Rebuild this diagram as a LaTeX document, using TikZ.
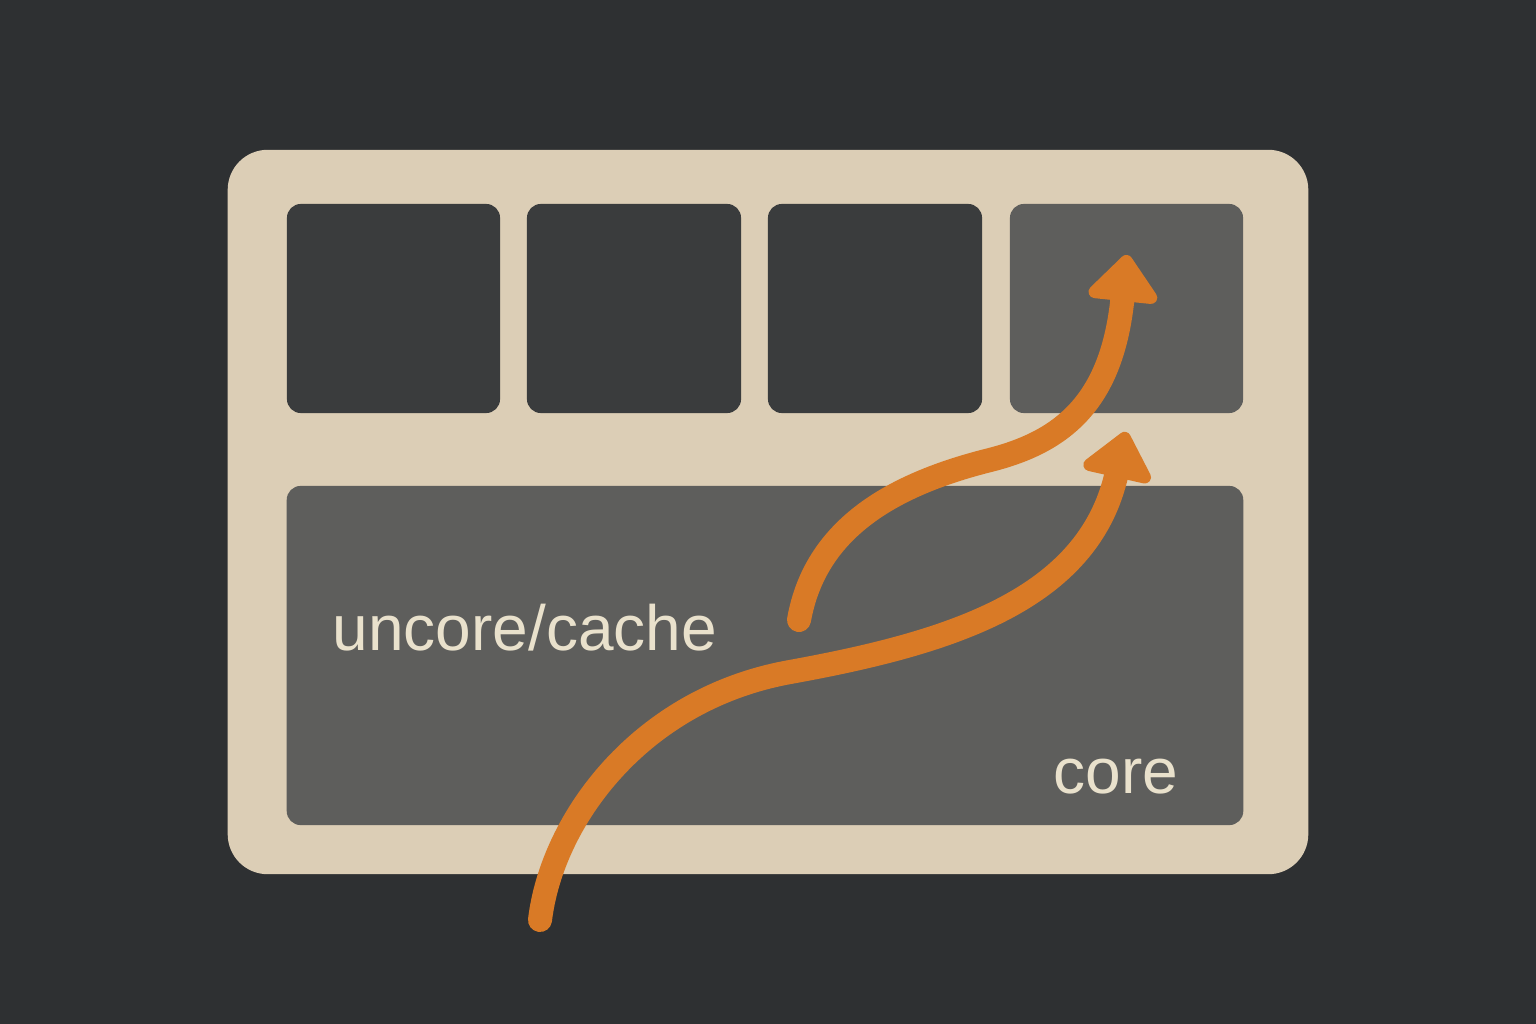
\documentclass[tikz,border=0pt]{standalone}
\usepackage{fontspec}
\setmainfont{Liberation Sans}
\usepackage{tikz}
\usetikzlibrary{arrows.meta,positioning,calc}

\definecolor{bgdark}{HTML}{2E3032}
\definecolor{chipbeige}{HTML}{DCCEB6}
\definecolor{slotdark}{HTML}{3A3C3D}
\definecolor{slotgrey}{HTML}{5E5E5C}
\definecolor{flow}{HTML}{D97A26}
\definecolor{labeltext}{HTML}{E9E1CC}

\begin{document}
\begin{tikzpicture}[x=0.01cm, y=-0.01cm,
    slot/.style={rounded corners=0.14cm, minimum width=2.13cm, minimum height=2.09cm, inner sep=0pt, fill=slotdark},
    label/.style={text=labeltext, font=\fontsize{18.2}{20}\selectfont, inner sep=0pt},
    flowline/.style={-{Triangle[length=0.5cm, width=0.8cm, round]}, line width=0.24cm, line cap=round, draw=flow}]
    \fill[bgdark] (0,0) rectangle (1536,1024);
    \useasboundingbox (0,0) rectangle (1536,1024);

    \node[rounded corners=0.4cm, minimum width=10.8cm, minimum height=7.24cm, fill=chipbeige] (chip) at (768,512) {};
    \node[slot] (slota) at (393.5,308.5) {};
    \node[slot, minimum width=2.14cm] (slotb) at (634,308.5) {};
    \node[slot, minimum width=2.14cm] (slotc) at (875,308.5) {};
    \node[slot, minimum width=2.33cm, fill=slotgrey] (slotd) at (1126.5,308.5) {};
    \node[rounded corners=0.14cm, minimum width=9.56cm, minimum height=3.39cm, inner sep=0pt, fill=slotgrey] (core) at (765,655.5) {};

    \node[label, anchor=base west] (uncorelabel) at (332,650) {uncore/cache};
    \node[label, anchor=base east] (corelabel) at (1179,793) {core};

    \coordinate (longstart) at (540,920);
    \coordinate (longmid) at (790,672);
    \coordinate (longend) at (1126,432);
    \coordinate (shortstart) at (799,620);
    \coordinate (shortmid) at (990,460);
    \coordinate (shortend) at (1127,255);

    \draw[flowline] (longstart) .. controls (552,820) and (640,699) .. (longmid)
        .. controls (950,643) and (1088,600) .. (longend);
    \draw[flowline] (shortstart) .. controls (815,530) and (890,485) .. (shortmid)
        .. controls (1065,441) and (1112,400) .. (shortend);
\end{tikzpicture}
\end{document}
